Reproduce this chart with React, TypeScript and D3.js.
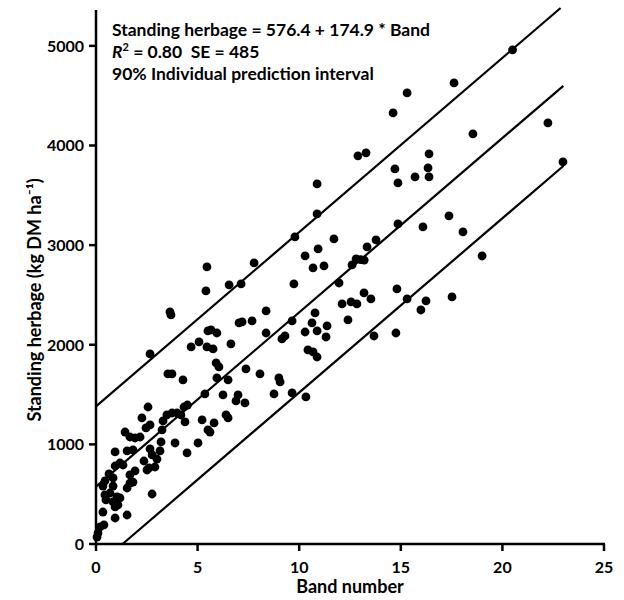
import React from 'react';
import * as d3 from 'd3';

// band number readings
const bandX = [
  22.98, 22.24, 20.5, 15.31, 17.62, 18.55, 16.39, 16.34, 15.7, 16.39, 14.86, 17.37, 16.09, 18.06, 19.0,
  14.86, 15.31, 16.24, 15.99, 17.52, 14.62, 12.89, 13.29, 10.88, 14.71, 10.88, 9.79, 11.71, 10.29, 10.93,
  10.68, 11.22, 13.78, 13.34, 12.8, 13.02, 13.2, 12.6, 9.74, 11.96, 14.81, 13.19, 13.53, 12.11, 12.55,
  12.84, 10.78, 10.63, 10.29, 10.88, 11.37, 11.32, 12.4, 13.68, 14.76, 10.43, 10.68, 10.88, 10.33,
  5.46, 7.78, 5.41, 6.55, 7.14, 8.37, 5.51, 5.66, 5.95, 7.04, 7.19, 7.68, 8.37, 9.65, 5.07, 5.46, 5.76,
  6.64, 9.3, 9.15, 5.91, 6.05, 7.38, 8.07, 5.95, 6.5, 9.0, 9.06, 5.36, 6.25, 6.99, 6.89, 7.33, 8.76, 9.65,
  5.22, 5.81, 6.4, 6.5, 5.51, 5.61, 4.68, 4.38, 5.02, 4.33, 4.5, 4.28, 3.64, 3.69, 2.66, 3.54, 3.74,
  2.56, 2.26, 2.66, 2.46, 1.43, 3.3, 3.49, 3.74, 3.99, 4.18, 3.25, 1.67, 1.92, 2.17, 3.2, 3.89, 4.48,
  0.94, 1.53, 1.82, 2.66, 2.76, 3.0, 3.15, 2.36, 1.18, 0.94, 1.33, 1.92, 2.61, 2.9, 2.51, 0.64, 0.84,
  1.67, 0.44, 0.34, 1.67, 1.82, 1.53, 0.84, 0.69, 0.44, 1.03, 1.18, 0.49, 0.84, 1.08, 0.94, 2.76, 0.34,
  1.53, 0.94, 0.39, 0.2, 0.1, 0.05
];
// standing herbage (kg DM/ha)
const herbageY = [
  3835, 4227, 4960, 4528, 4628, 4116, 3916, 3775, 3685, 3685, 3624, 3293, 3183, 3132, 2891,
  3213, 2460, 2440, 2349, 2480, 4327, 3896, 3926, 3614, 3765, 3313, 3082, 3062, 2892, 2962,
  2771, 2791, 3052, 2982, 2861, 2855, 2850, 2801, 2610, 2620, 2560, 2520, 2460, 2410, 2430,
  2410, 2319, 2219, 2128, 2139, 2189, 2078, 2249, 2088, 2118, 1948, 1928, 1877, 1476,
  2781, 2821, 2540, 2600, 2610, 2339, 2139, 2149, 2118, 2219, 2229, 2239, 2118, 2239, 2028, 1978, 1958,
  2008, 2088, 2058, 1817, 1777, 1757, 1707, 1667, 1647, 1667, 1627, 1506, 1496, 1496, 1436, 1416, 1506, 1516,
  1245, 1215, 1295, 1265, 1145, 1124, 1978, 1225, 1014, 1375, 1395, 1647, 2329, 2299, 1908, 1707, 1707,
  1375, 1265, 1195, 1165, 1124, 1235, 1295, 1315, 1315, 1295, 1145, 1074, 1064, 1074, 1024, 1014, 914,
  924, 934, 944, 954, 894, 853, 934, 833, 813, 783, 793, 733, 763, 773, 743, 703, 663,
  693, 633, 582, 612, 622, 562, 582, 512, 492, 472, 462, 442, 422, 392, 372, 502, 321,
  291, 261, 191, 171, 110, 70
];

const xTicks = [0, 5, 10, 15, 20, 25];
const yTicks = [0, 1000, 2000, 3000, 4000, 5000];

// regression fit and 90% prediction band
const intercept = 576.4;
const slope = 174.9;
const piHalfWidth = 805;
const bandMax = 23.0;

const W = 624;
const H = 600;
const font = 'Lato, "Open Sans", sans-serif';

export default function App() {
  const x = d3.scaleLinear().domain([0, 25]).range([96, 604]);
  const y = d3.scaleLinear().domain([0, 5360]).range([544, 10]);

  const pts = bandX.map((b, i) => ({ b, h: herbageY[i] }));

  const line = d3.line<number[]>().x(d => x(d[0])).y(d => y(d[1]));
  const fit = (b: number, off: number) => intercept + slope * b + off;
  const upperEnd = Math.min(bandMax, (5380 - intercept - piHalfWidth) / slope);
  const lowerStart = (piHalfWidth - intercept) / slope;

  const lines = [
    [[0, fit(0, piHalfWidth)], [upperEnd, fit(upperEnd, piHalfWidth)]],
    [[0, fit(0, 0)], [bandMax, fit(bandMax, 0)]],
    [[lowerStart, 0], [bandMax, fit(bandMax, -piHalfWidth)]],
  ];

  const y0 = y(0);
  const x0 = x(0);

  return (
    <svg width={W} height={H} style={{ position: 'absolute', left: 0, top: 0, background: '#fff' }}
      fontFamily={font}>
      {lines.map((l, i) => (
        <path key={i} d={line(l as number[][]) || ''} fill="none" stroke="#000" strokeWidth={2.2} />
      ))}
      {pts.map((p, i) => (
        <circle key={i} cx={x(p.b)} cy={y(p.h)} r={4.4} fill="#000" />
      ))}

      {/* axes */}
      <line x1={x0} x2={x0} y1={y.range()[1]} y2={y0 + 1} stroke="#000" strokeWidth={2.5} />
      <line x1={x0 - 1} x2={x(25) + 1} y1={y0} y2={y0} stroke="#000" strokeWidth={2.5} />
      {yTicks.map(t => (
        <g key={t}>
          <line x1={x0 - 7} x2={x0} y1={y(t)} y2={y(t)} stroke="#000" strokeWidth={2.5} />
          <text x={x0 - 12} y={y(t)} dy="0.36em" textAnchor="end" fontSize={16} fontWeight="bold">{t}</text>
        </g>
      ))}
      {xTicks.map(t => (
        <g key={t}>
          <line x1={x(t)} x2={x(t)} y1={y0} y2={y0 + 7} stroke="#000" strokeWidth={2.5} />
          <text x={x(t)} y={y0 + 29} textAnchor="middle" fontSize={16} fontWeight="bold">{t}</text>
        </g>
      ))}

      <text x={350} y={593} textAnchor="middle" fontSize={18} fontWeight="bold">Band number</text>
      <text transform={`translate(41,${300}) rotate(-90)`} textAnchor="middle" fontSize={18} fontWeight="bold">
        Standing herbage (kg DM ha⁻¹)
      </text>

      <g fontSize={17.5} fontWeight="bold">
        <text x={112} y={36}>Standing herbage = 576.4 + 174.9 * Band</text>
        <text x={112} y={58}>
          <tspan fontStyle="italic">R</tspan>
          <tspan fontSize={11} dy={-7}>2</tspan>
          <tspan dy={7}>{' = 0.80\u00a0\u00a0SE = 485'}</tspan>
        </text>
        <text x={112} y={80}>90% Individual prediction interval</text>
      </g>
    </svg>
  );
}
